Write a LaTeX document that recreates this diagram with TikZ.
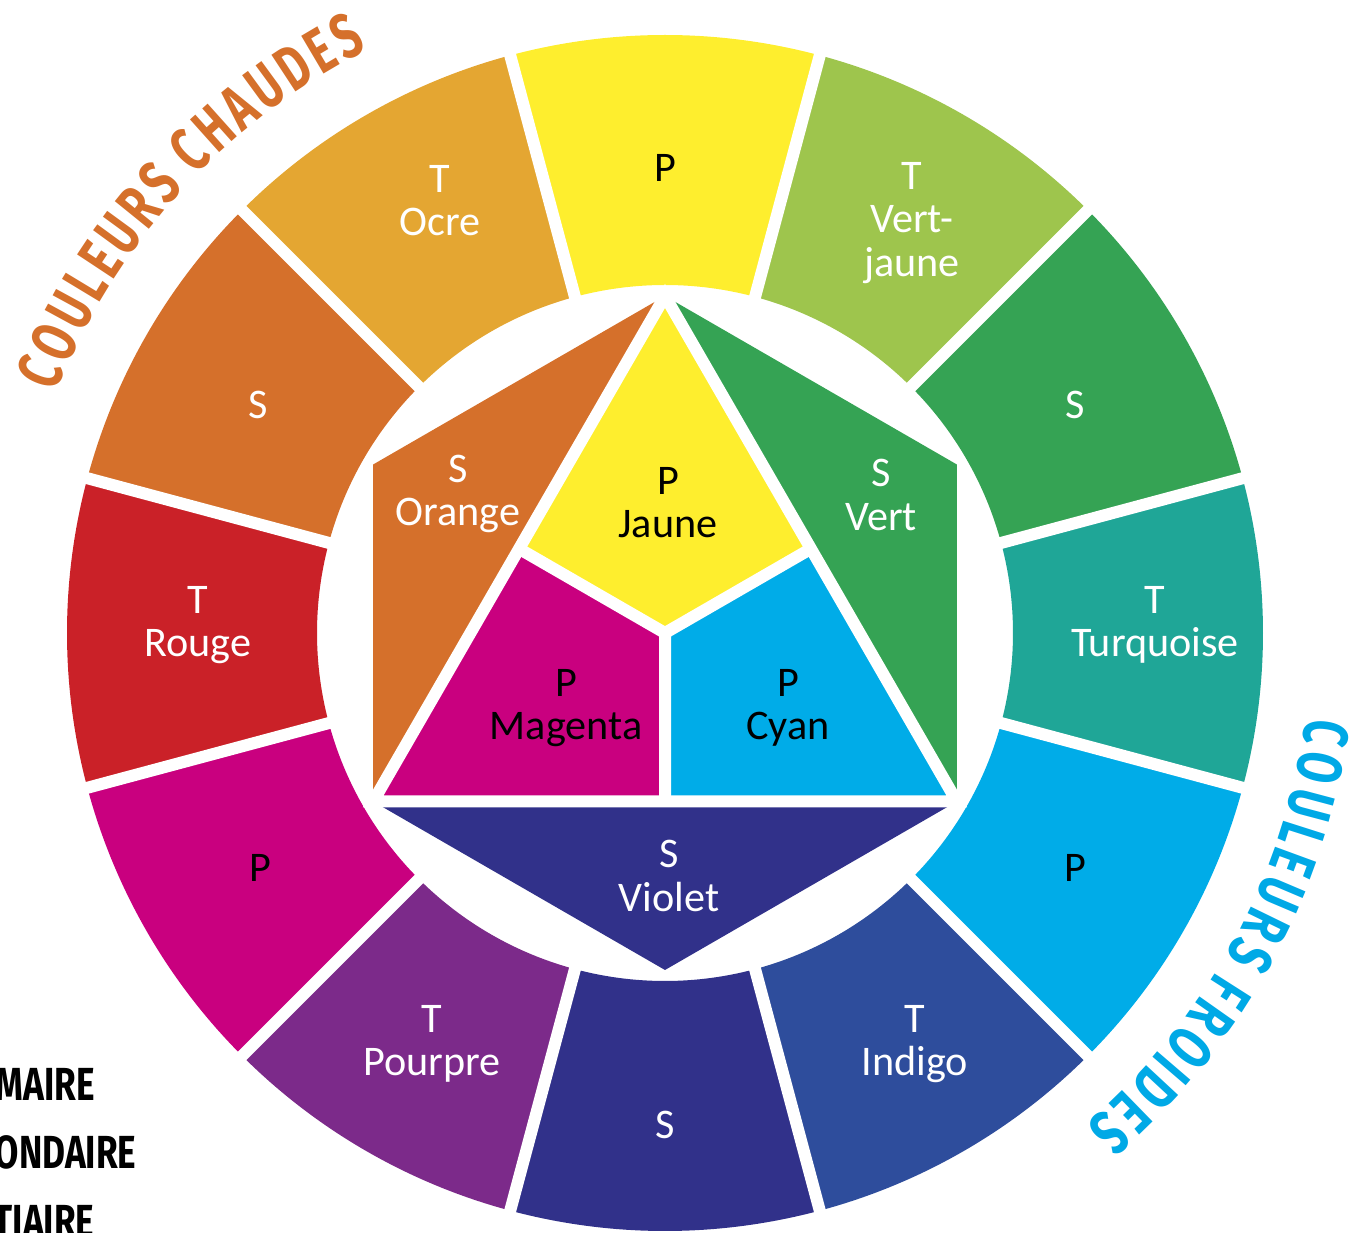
\documentclass[tikz,border=0pt]{standalone}
\usepackage{fontspec}
\setmainfont{Carlito}
\newfontfamily\arcfont{Fira Sans}[FakeStretch=0.7]
\newfontfamily\keyfont{Fira Sans}[FakeStretch=0.76]
\usepackage{tikz}
\usetikzlibrary{positioning,
decorations.text % for the two curved titles
}
\definecolor{jauneP}{HTML}{FEEE2E}
\definecolor{vertjauneT}{HTML}{9EC54D}
\definecolor{vertS}{HTML}{35A354}
\definecolor{turquoiseT}{HTML}{1FA697}
\definecolor{cyanP}{HTML}{00ACE8}
\definecolor{indigoT}{HTML}{2E4D9C}
\definecolor{violetS}{HTML}{31318A}
\definecolor{pourpreT}{HTML}{7C2A8A}
\definecolor{magentaP}{HTML}{C9007F}
\definecolor{rougeT}{HTML}{CA2128}
\definecolor{orangeS}{HTML}{D5702B}
\definecolor{ocreT}{HTML}{E4A632}
\definecolor{warmtitle}{HTML}{D5702B}
\definecolor{coldtitle}{HTML}{00A9E6}
\tikzset{%
  whitegap/.style={draw=white, line width=1.2mm}, % white cut between two pieces
  lbl/.style={font=\fontsize{12}{12.3}\selectfont, align=center, text=white, inner sep=0pt},
  lbldark/.style={lbl, text=black}, % black text on the light pieces
  keytext/.style={font=\keyfont\bfseries\fontsize{13.2}{14}\selectfont, anchor=base west, inner sep=0pt},
  arcletters/.style={font=\arcfont\bfseries\fontsize{18}{18}\selectfont}
}
\newcommand{\ringin}{3.48}
\newcommand{\ringout}{5.98}
\newcommand{\ringpart}[2]{% #1 = middle angle, #2 = colour
  \fill[#2] (#1-15:\ringin) arc[start angle=#1-15, end angle=#1+15, radius=\ringin]
    -- (#1+15:\ringout) arc[start angle=#1+15, end angle=#1-15, radius=\ringout] -- cycle;
}

\begin{document}
\begin{tikzpicture}
    \useasboundingbox (-6.65,-6.00) rectangle (6.89,6.33);

    % outer ring, clockwise from the top
    \ringpart{90}{jauneP}
    \ringpart{60}{vertjauneT}
    \ringpart{30}{vertS}
    \ringpart{0}{turquoiseT}
    \ringpart{-30}{cyanP}
    \ringpart{-60}{indigoT}
    \ringpart{-90}{violetS}
    \ringpart{-120}{pourpreT}
    \ringpart{-150}{magentaP}
    \ringpart{180}{rougeT}
    \ringpart{150}{orangeS}
    \ringpart{120}{ocreT}
    \draw[whitegap] (15:3.4) -- (15:6.1) (45:3.4) -- (45:6.1) (75:3.4) -- (75:6.1)
      (105:3.4) -- (105:6.1) (135:3.4) -- (135:6.1) (165:3.4) -- (165:6.1)
      (195:3.4) -- (195:6.1) (225:3.4) -- (225:6.1) (255:3.4) -- (255:6.1)
      (285:3.4) -- (285:6.1) (315:3.4) -- (315:6.1) (345:3.4) -- (345:6.1);

    % inner hexagon
    \coordinate (top) at (90:3.37);
    \coordinate (upleft) at (150:3.37);
    \coordinate (lowleft) at (210:3.37);
    \coordinate (bottom) at (270:3.37);
    \coordinate (lowright) at (330:3.37);
    \coordinate (upright) at (30:3.37);
    \coordinate (mid) at (0,0);
    \coordinate (midleft) at (150:1.685);
    \coordinate (midright) at (30:1.685);
    \coordinate (midlow) at (270:1.685);

    \fill[orangeS] (top) -- (upleft) -- (lowleft) -- cycle;
    \fill[vertS] (top) -- (upright) -- (lowright) -- cycle;
    \fill[violetS] (lowleft) -- (bottom) -- (lowright) -- cycle;
    \fill[jauneP] (top) -- (midright) -- (mid) -- (midleft) -- cycle;
    \fill[magentaP] (midleft) -- (mid) -- (midlow) -- (lowleft) -- cycle;
    \fill[cyanP] (midright) -- (lowright) -- (midlow) -- (mid) -- cycle;
    \draw[whitegap] (top) -- (lowleft) -- (lowright) -- cycle;
    \draw[whitegap] (mid) -- (midleft) (mid) -- (midright) (mid) -- (midlow);

    % ring labels
    \node[lbldark] (r-jaune) at (0,4.65) {P};
    \node[lbl] (r-vertjaune) at (2.47,4.10) {T\\Vert-\\jaune};
    \node[lbl] (r-vert) at (4.10,2.28) {S};
    \node[lbl] (r-turquoise) at (4.90,0.08) {T\\Turquoise};
    \node[lbldark] (r-cyan) at (4.10,-2.35) {P};
    \node[lbl] (r-indigo) at (2.50,-4.11) {T\\Indigo};
    \node[lbl] (r-violet) at (0,-4.92) {S};
    \node[lbl] (r-pourpre) at (-2.33,-4.11) {T\\Pourpre};
    \node[lbldark] (r-magenta) at (-4.05,-2.35) {P};
    \node[lbl] (r-rouge) at (-4.67,0.08) {T\\Rouge};
    \node[lbl] (r-orange) at (-4.07,2.28) {S};
    \node[lbl] (r-ocre) at (-2.25,4.32) {T\\Ocre};

    % hexagon labels
    \node[lbl] (h-orange) at (-2.07,1.39) {S\\Orange};
    \node[lbldark] (h-jaune) at (0.03,1.30) {P\\Jaune};
    \node[lbl] (h-vert) at (2.16,1.38) {S\\Vert};
    \node[lbldark] (h-magenta) at (-0.99,-0.75) {P\\Magenta};
    \node[lbldark] (h-cyan) at (1.23,-0.75) {P\\Cyan};
    \node[lbl] (h-violet) at (0.04,-2.43) {S\\Violet};

    % curved titles, letters spread over the arc
    \path[decorate, decoration={text effects along path, text={COULEURS CHAUDES},
      text effects/.cd, text along path, fit text to path,
      characters={arcletters, text=warmtitle}}]
      (158.5:6.55) arc[start angle=158.5, end angle=117, radius=6.55];
    \path[decorate, decoration={text effects along path, text={COULEURS FROIDES},
      text effects/.cd, text along path, fit text to path,
      characters={arcletters, text=coldtitle}}]
      (-7.5:6.47) arc[start angle=-7.5, end angle=-49.5, radius=6.47];

    % key, cut by the left edge
    \node[keytext] (k-primaire) at (-6.70,-4.67) {MAIRE};
    \node[keytext] (k-secondaire) at (-6.71,-5.35) {ONDAIRE};
    \node[keytext] (k-tertiaire) at (-6.72,-6.04) {TIAIRE};
\end{tikzpicture}
\end{document}
